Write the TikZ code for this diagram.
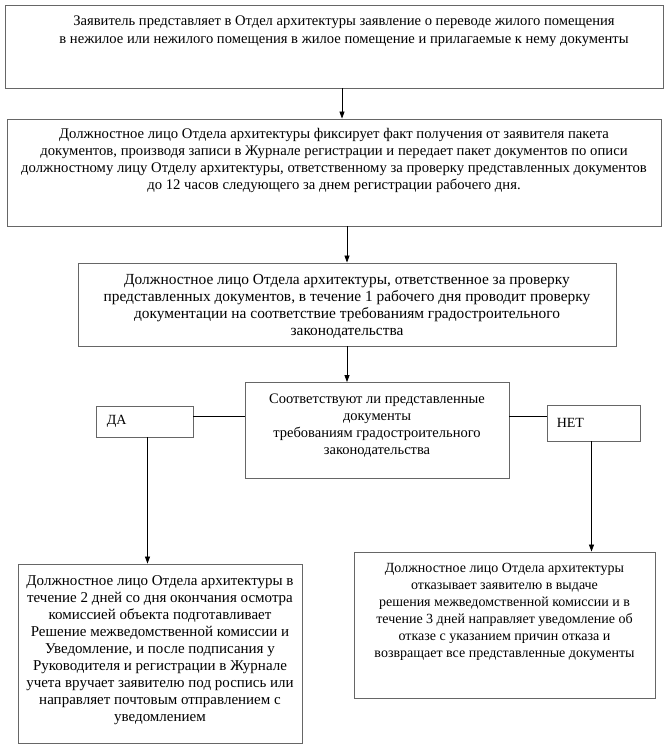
\documentclass[tikz,border=0pt]{standalone}
\usepackage{fontspec}
\setmainfont{Liberation Serif}
\usetikzlibrary{arrows.meta}
\usetikzlibrary{positioning}
\usetikzlibrary{calc}
\tikzset{
blk/.style = {draw=black!60, line width=0.9pt, inner sep=0pt,
              minimum width=#1},
txt/.style = {align=center, inner sep=0pt,
              font=\rmfamily\fontsize{#1}{17}\selectfont},
txt/.default = 14.5,
arr/.style = {-{Triangle[length=7pt,width=5pt]}, line width=0.8pt},
lnk/.style = {line width=0.8pt}
}
\begin{document}
\begin{tikzpicture}[x=1pt, y=-1pt]
        \useasboundingbox (0,0) rectangle (671,753);
        % boxes
        \node[blk=658, minimum height=83] (zayav) at (334,46.5) {};
        \node[blk=654, minimum height=107] (fiks) at (334,172.5) {};
        \node[blk=538, minimum height=83] (prov) at (347,304.5) {};
        \node[blk=264, minimum height=96] (sootv) at (377,430.5) {};
        \node[blk=97, minimum height=31] (da) at (144.5,421.5) {};
        \node[blk=93, minimum height=36] (net) at (593.5,423) {};
        \node[blk=284, minimum height=179] (resh) at (160,653.5) {};
        \node[blk=301, minimum height=146] (otkaz) at (504.5,625) {};
        % texts
        \node[txt, font=\rmfamily\fontsize{14.6}{18}\selectfont, below=11pt of zayav.north, xshift=10pt] {Заявитель представляет в Отдел архитектуры заявление о переводе жилого помещения\\
          в нежилое или нежилого помещения в жилое помещение и прилагаемые к нему документы};
        \node[txt=14.7, below=10pt of fiks.north] {Должностное лицо Отдела архитектуры фиксирует факт получения от заявителя пакета\\
          документов, производя записи в Журнале регистрации и передает пакет документов по описи\\
          должностному лицу Отделу архитектуры, ответственному за проверку представленных документов\\
          до 12 часов следующего за днем регистрации рабочего дня.};
        \node[txt=15.4, below=11.5pt of prov.north] {Должностное лицо Отдела архитектуры, ответственное за проверку\\
          представленных документов, в течение 1 рабочего дня проводит проверку\\
          документации на соответствие требованиям градостроительного\\
          законодательства};
        \node[txt, below=11.5pt of sootv.north] {Соответствуют ли представленные\\
          документы\\
          требованиям градостроительного\\
          законодательства};
        \node[txt=14, right=11pt of da.west] {ДА};
        \node[txt=14, right=10pt of net.west] {НЕТ};
        \node[txt=15, below=12pt of resh.north] {Должностное лицо Отдела архитектуры в\\
          течение 2 дней со дня окончания осмотра\\
          комиссией объекта подготавливает\\
          Решение межведомственной комиссии и\\
          Уведомление, и после подписания у\\
          Руководителя и регистрации в Журнале\\
          учета вручает заявителю под роспись или\\
          направляет почтовым отправлением с\\
          уведомлением};
        \node[txt=14, below=11pt of otkaz.north] {Должностное лицо Отдела архитектуры\\
          отказывает заявителю в выдаче\\
          решения межведомственной комиссии и в\\
          течение 3 дней направляет уведомление об\\
          отказе с указанием причин отказа и\\
          возвращает все представленные документы};
        % connectors
        \draw[arr] ([xshift=8pt]zayav.south) -- ([xshift=8pt]zayav.south |- fiks.north);
        \draw[arr] (fiks.south -| prov.north) -- (prov.north);
        \draw[arr] (prov.south) -- (prov.south |- sootv.north);
        \draw[lnk] ([yshift=5pt]da.east) -- ([yshift=5pt]da.east -| sootv.west);
        \draw[lnk] ([yshift=7pt]sootv.east |- net.east) -- ([yshift=7pt]net.west);
        \draw[arr] ([xshift=3pt]da.south) -- ([xshift=3pt]da.south |- resh.north);
        \draw[arr] ([xshift=-2pt]net.south) -- ([xshift=-2pt]net.south |- otkaz.north);
\end{tikzpicture}
\end{document}
